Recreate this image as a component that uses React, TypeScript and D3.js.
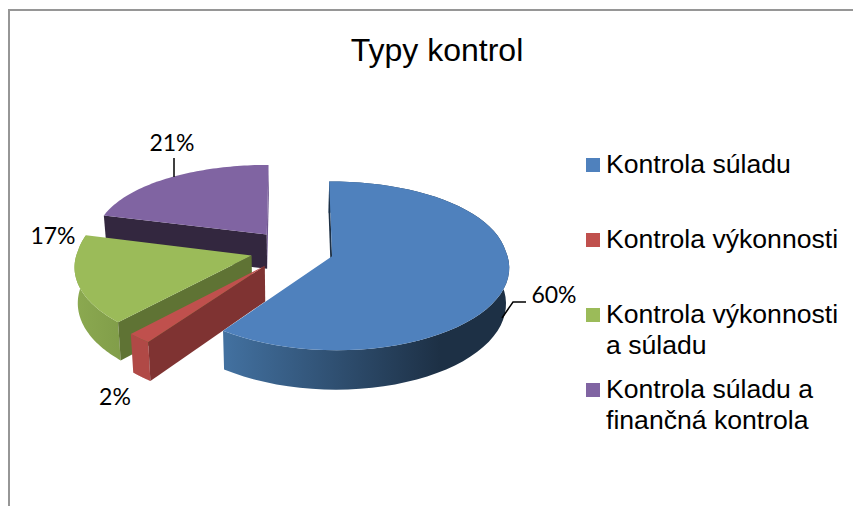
import React from "react";
import * as d3 from "d3";

const categories = ["Kontrola súladu", "Kontrola výkonnosti", "Kontrola výkonnosti a súladu", "Kontrola súladu a finančná kontrola"];
const values = [60, 2, 17, 21];
const labels = ["60%", "2%", "17%", "21%"];
const legendLines = [["Kontrola súladu"], ["Kontrola výkonnosti"], ["Kontrola výkonnosti", "a súladu"], ["Kontrola súladu a", "finančná kontrola"]];
const faceColors = ["#4f81bd", "#c0504d", "#9bbb59", "#8064a2"];
const cutColors = ["#1d3045", "#7f3332", "#5f7334", "#33273f"];
const endColors = ["#1d3045", "#b04946", "#8aa64f", "#6f5790"];

const W = 853, H = 506;
const CX = 292, CY = 250, RX = 174, RY = 83, K = 0.116, KXBACK = 0.07, EXPLODE = 0.24, DEPTH = 35;

const sx = d3.scaleLinear().domain([-1, 1]).range([CX - RX, CX + RX]);
const sy = d3.scaleLinear().domain([-1, 1]).range([CY - RY, CY + RY]);
const pie = d3.pie<number>().sort(null).startAngle(0).endAngle(2 * Math.PI);
const arcs = pie(values);
const line = d3.line();

type P = [number, number];
function project(u: number, v: number, down = false): P {
  const p = 1 + K * v;
  const px = 1 + (v < 0 ? KXBACK : K) * v;
  let x = sx(u * px);
  let y = sy(v * p);
  if (down) {
    x = CX + (x - CX) * 0.985;
    y = y + DEPTH * p;
  }
  return [x, y];
}

const slices = arcs.map((a) => {
  const mid = (a.startAngle + a.endAngle) / 2;
  const ou = EXPLODE * Math.sin(mid), ov = -EXPLODE * Math.cos(mid);
  const angles = d3.range(0, 61).map((k) => a.startAngle + ((a.endAngle - a.startAngle) * k) / 60);
  const rim = angles.map((t) => [ou + Math.sin(t), ov - Math.cos(t)] as P);
  const top = rim.map(([u, v]) => project(u, v));
  const bottom = rim.map(([u, v]) => project(u, v, true));
  const apexTop = project(ou, ov);
  const apexBottom = project(ou, ov, true);
  return {
    face: line([apexTop, ...top]) + "Z",
    outer: line([...top, ...bottom.slice().reverse()]) + "Z",
    cutStart: line([apexTop, top[0], bottom[0], apexBottom]) + "Z",
    cutEnd: line([apexTop, top[60], bottom[60], apexBottom]) + "Z",
  };
});

const drawOrder = [3, 2, 1, 0];
const labelPositions = [[554, 303], [115, 405], [53, 244], [172, 151]];

export default function App() {
  return (
    <svg width={W} height={H} viewBox={`0 0 ${W} ${H}`} style={{ position: "absolute", left: 0, top: 0, background: "#fff" }}>
      <defs>
        <linearGradient id="blueSide" gradientUnits="userSpaceOnUse" x1={227} x2={440} y1={0} y2={0}>
          <stop offset="0" stopColor="#42709f" />
          <stop offset="1" stopColor="#1d3045" />
        </linearGradient>
        <linearGradient id="greenSide" gradientUnits="userSpaceOnUse" x1={76} x2={130} y1={0} y2={0}>
          <stop offset="0" stopColor="#8ba950" />
          <stop offset="1" stopColor="#7f9b48" />
        </linearGradient>
      </defs>
      <path d="M853,10H9V506" fill="none" stroke="#969696" strokeWidth={2} />
      <text x={437} y={61} textAnchor="middle" fontFamily="Liberation Sans" fontSize={32} fill="#000">Typy kontrol</text>

      {drawOrder.map((i) => {
        const s = slices[i];
        const outerFill = i === 0 ? "url(#blueSide)" : i === 2 ? "url(#greenSide)" : endColors[i];
        return (
          <g key={categories[i]}>
            {i !== 3 && <path d={s.outer} fill={outerFill} />}
            <path d={s.cutStart} fill={cutColors[i]} />
            {i === 3 && <path d={s.cutEnd} fill={endColors[i]} />}
            <path d={s.face} fill={faceColors[i]} />
          </g>
        );
      })}

      <path d="M502,318L513,302H526" fill="none" stroke="#000" strokeWidth={1.5} />
      <path d="M174,158V177" fill="none" stroke="#000" strokeWidth={1.5} />
      {labelPositions.map(([x, y], i) => (
        <text key={labels[i]} x={x} y={y} textAnchor="middle" fontFamily="Lato" fontSize={23} fill="#000">{labels[i]}</text>
      ))}

      {legendLines.map((ls, i) => {
        const by = 173 + 75 * i;
        return (
          <g key={categories[i]}>
            <rect x={586} y={by - 15} width={14} height={14} fill={faceColors[i]} />
            {ls.map((t, j) => (
              <text key={t} x={606} y={by + j * 30.5} fontFamily="Liberation Sans" fontSize={26.6} fill="#000">{t}</text>
            ))}
          </g>
        );
      })}
    </svg>
  );
}
